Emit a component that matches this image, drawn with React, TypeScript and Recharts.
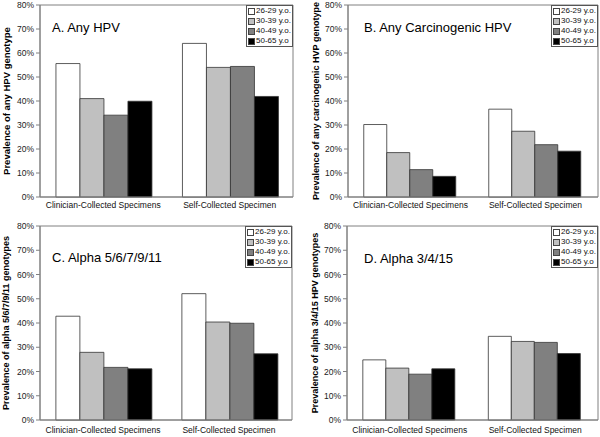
import { BarChart, Bar, XAxis, YAxis, Legend, ReferenceArea } from "recharts";

const categories = ["Clinician-Collected Specimens", "Self-Collected Specimen"];
const ageGroups = ["26-29 y.o.", "30-39 y.o.", "40-49 y.o.", "50-65 y.o"];
const barColors = ["#ffffff", "#c0c0c0", "#808080", "#000000"];
const yTicks = [0, 10, 20, 30, 40, 50, 60, 70, 80];

// values per age group: [26-29, 30-39, 40-49, 50-65]
const anyHpvClinician = [55.6, 41.0, 34.1, 39.9];
const anyHpvSelf = [64.0, 54.0, 54.4, 41.9];
const carcinogenicClinician = [30.2, 18.5, 11.4, 8.6];
const carcinogenicSelf = [36.6, 27.4, 21.8, 19.1];
const alpha5Clinician = [42.8, 27.9, 21.7, 21.1];
const alpha5Self = [52.1, 40.4, 39.9, 27.3];
const alpha3Clinician = [24.8, 21.4, 18.9, 21.1];
const alpha3Self = [34.5, 32.4, 32.0, 27.4];

const FONT = "'Liberation Sans', Arial, sans-serif";

function buildRows(clinician: number[], self: number[]) {
  return categories.map((cat, i) => {
    const vals = i === 0 ? clinician : self;
    const row: Record<string, string | number> = { category: cat };
    ageGroups.forEach((g, j) => {
      row["g" + j] = vals[j];
    });
    return row;
  });
}

// eslint-disable-next-line @typescript-eslint/no-explicit-any
const renderLegend = (props: any) => {
  const { payload } = props;
  return (
    <div
      style={{
        border: "1px solid #555",
        background: "#fff",
        padding: "0px 1px",
        fontFamily: FONT,
        fontSize: 8,
        lineHeight: "10px",
        color: "#111",
        whiteSpace: "nowrap",
      }}
    >
      {payload.map((p: any, i: number) => (
        <div key={i} style={{ display: "flex", alignItems: "center" }}>
          <span
            style={{
              display: "inline-block",
              width: 5,
              height: 5,
              background: p.color,
              border: "1px solid #444",
              marginRight: 1,
            }}
          />
          {p.value}
        </div>
      ))}
    </div>
  );
};

interface PanelProps {
  left: number;
  top: number;
  height: number;
  title: string;
  titleX: number;
  titleY: number;
  yLabel: string;
  yLabelSize: number;
  yAxisWidth: number;
  yLabelOffset: number;
  marginTop: number;
  marginRight: number;
  xAxisHeight: number;
  xTickMargin: number;
  legendLeft: number;
  clinician: number[];
  self: number[];
}

function Panel(p: PanelProps) {
  const rows = buildRows(p.clinician, p.self);
  return (
    <div style={{ position: "absolute", left: p.left, top: p.top, width: 300, height: p.height, fontFamily: FONT }}>
      <BarChart
        width={300}
        height={p.height}
        data={rows}
        margin={{ top: p.marginTop, right: p.marginRight, bottom: 0, left: 0 }}
        barCategoryGap="12.6%"
        barGap={0}
        style={{ fontFamily: FONT }}
      >
        <XAxis
          xAxisId="edge"
          type="number"
          domain={[0, 2]}
          ticks={[0, 1, 2]}
          tick={false}
          axisLine={false}
          tickLine={{ stroke: "#808080" }}
          tickSize={4}
          height={0}
        />
        <XAxis
          dataKey="category"
          axisLine={{ stroke: "#808080" }}
          tickLine={false}
          tickSize={0}
          tickMargin={p.xTickMargin}
          height={p.xAxisHeight}
          tick={{ fontSize: 8.5, fill: "#111", fontFamily: FONT }}
          interval={0}
        />
        <YAxis
          domain={[0, 80]}
          ticks={yTicks}
          tickFormatter={(v) => v + "%"}
          width={p.yAxisWidth}
          axisLine={{ stroke: "#808080" }}
          tickLine={{ stroke: "#808080" }}
          tickSize={4}
          tickMargin={2}
          tick={{ fontSize: 8.5, fill: "#222", fontFamily: FONT }}
          label={{
            value: p.yLabel,
            angle: -90,
            position: "insideLeft",
            offset: p.yLabelOffset,
            style: { textAnchor: "middle", fontWeight: "bold", fontSize: p.yLabelSize, fill: "#000", fontFamily: FONT },
          }}
        />
        <ReferenceArea y1={0} y2={80} fill="none" stroke="#808080" strokeWidth={1} />
        {ageGroups.map((g, j) => (
          <Bar
            key={g}
            dataKey={"g" + j}
            name={g}
            fill={barColors[j]}
            stroke="#333"
            strokeWidth={0.8}
            isAnimationActive={false}
          />
        ))}
        <Legend
          layout="vertical"
          align="center"
          verticalAlign="middle"
          content={renderLegend}
          wrapperStyle={{ left: p.legendLeft, top: p.marginTop, width: "auto" }}
        />
      </BarChart>
      <div
        style={{
          position: "absolute",
          left: p.titleX,
          top: p.titleY,
          fontFamily: FONT,
          fontSize: 13,
          color: "#000",
          whiteSpace: "nowrap",
          lineHeight: "15px",
        }}
      >
        {p.title}
      </div>
    </div>
  );
}

export default function App() {
  return (
    <div style={{ position: "absolute", left: 0, top: 0, width: 600, height: 437, background: "#fff", overflow: "hidden", fontFamily: FONT }}>
      <Panel
        left={0}
        top={0}
        height={218}
        title="A. Any HPV"
        titleX={52}
        titleY={20}
        yLabel="Prevalence of any HPV genotype"
        yLabelSize={9.5}
        yAxisWidth={40}
        yLabelOffset={7}
        marginTop={5}
        marginRight={7}
        xAxisHeight={21}
        xTickMargin={5}
        legendLeft={246}
        clinician={anyHpvClinician}
        self={anyHpvSelf}
      />
      <Panel
        left={300}
        top={0}
        height={218}
        title="B. Any Carcinogenic HPV"
        titleX={64}
        titleY={20}
        yLabel="Prevalence of any carcinogenic HVP genotype"
        yLabelSize={9}
        yAxisWidth={48}
        yLabelOffset={16}
        marginTop={5}
        marginRight={2}
        xAxisHeight={21}
        xTickMargin={5}
        legendLeft={251}
        clinician={carcinogenicClinician}
        self={carcinogenicSelf}
      />
      <Panel
        left={0}
        top={218}
        height={219}
        title="C. Alpha 5/6/7/9/11"
        titleX={52}
        titleY={32}
        yLabel="Prevalence of alpha 5/6/7/9/11 genotypes"
        yLabelSize={9}
        yAxisWidth={40}
        yLabelOffset={6}
        marginTop={8}
        marginRight={8}
        xAxisHeight={17}
        xTickMargin={7}
        legendLeft={245}
        clinician={alpha5Clinician}
        self={alpha5Self}
      />
      <Panel
        left={300}
        top={218}
        height={219}
        title="D. Alpha 3/4/15"
        titleX={64}
        titleY={33}
        yLabel="Prevalence of alpha 3/4/15 HPV genotypes"
        yLabelSize={9}
        yAxisWidth={47}
        yLabelOffset={15}
        marginTop={8}
        marginRight={2}
        xAxisHeight={17}
        xTickMargin={7}
        legendLeft={251}
        clinician={alpha3Clinician}
        self={alpha3Self}
      />
    </div>
  );
}
